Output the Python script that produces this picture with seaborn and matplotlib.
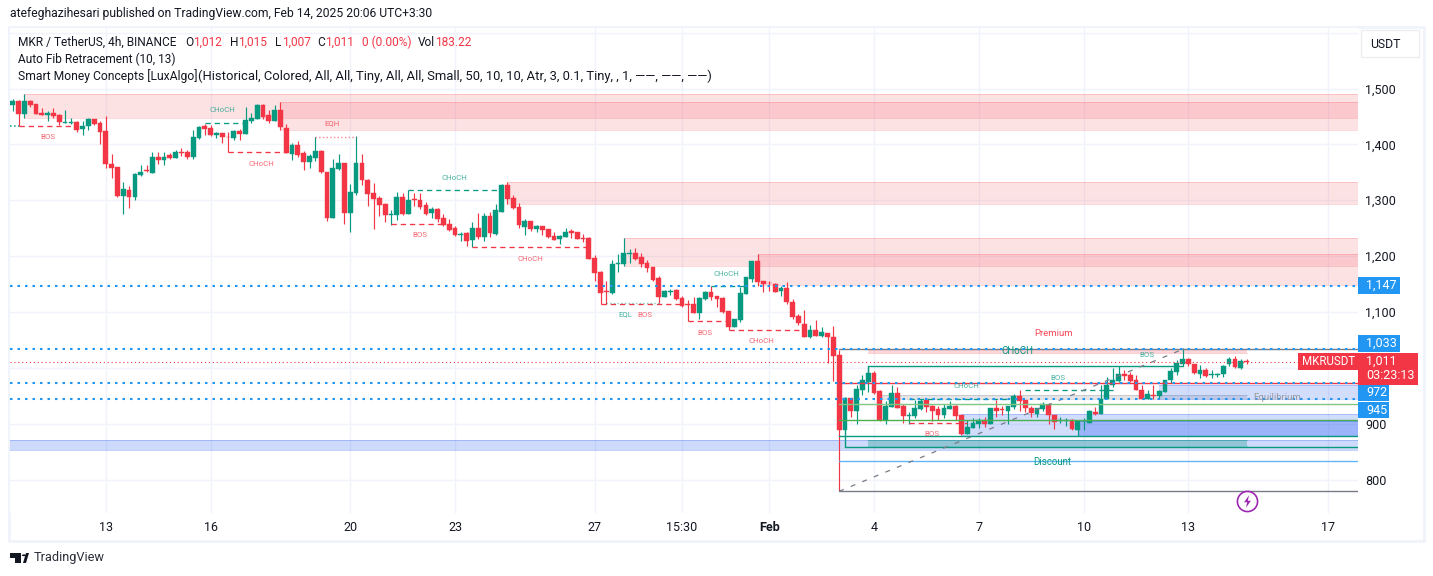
import numpy as np
import pandas as pd
import matplotlib.pyplot as plt
from matplotlib.patches import Rectangle, Polygon
import seaborn as sns

# 4h candles, left to right
opens = [1470,1478,1455,1478,1472,1456,1453,1456,1453,1439,1439,1440,1428,1432,1445,1438,1424,1365,1359,1308,
         1318,1305,1346,1354,1349,1377,1372,1381,1376,1386,1386,1377,1411,1433,1429,1417,1420,1414,1411,1424,
         1419,1442,1445,1470,1453,1442,1461,1429,1383,1399,1384,1368,1376,1388,1351,1268,1356,1367,1277,1313,
         1367,1336,1313,1304,1293,1274,1274,1306,1275,1302,1300,1291,1277,1284,1268,1257,1250,1238,1241,1229,
         1250,1234,1272,1239,1279,1327,1304,1288,1252,1263,1248,1254,1248,1236,1231,1234,1245,1243,1232,1232,
         1197,1172,1138,1134,1186,1186,1204,1206,1198,1188,1180,1161,1127,1136,1139,1125,1114,1114,1098,1123,
         1136,1128,1125,1102,1073,1086,1132,1159,1191,1155,1152,1150,1137,1143,1118,1093,1078,1055,1068,1057,
         1062,1055,1023,889,946,923,960,975,991,958,907,930,955,932,914,914,926,942,932,926,
         915,926,932,915,881,892,899,906,899,928,926,923,930,950,942,928,917,926,933,915,
         905,905,906,889,904,901,921,918,945,970,977,989,987,979,961,945,951,950,957,978,
         992,1007,1016,1007,989,997,988,988,989,1006,1016,1000,1012]
highs = [1481,1479,1490,1479,1473,1465,1460,1465,1454,1461,1448,1442,1441,1448,1445,1441,1451,1383,1359,1333,
         1325,1348,1363,1363,1386,1386,1386,1385,1390,1393,1390,1426,1433,1436,1435,1423,1421,1423,1426,1427,
         1467,1456,1472,1473,1461,1471,1476,1436,1402,1406,1388,1383,1414,1390,1351,1374,1383,1367,1329,1415,
         1383,1338,1331,1307,1295,1282,1315,1313,1318,1313,1313,1297,1288,1286,1275,1266,1254,1243,1243,1261,
         1277,1277,1279,1293,1329,1333,1309,1295,1266,1263,1256,1254,1248,1243,1238,1250,1248,1243,1239,1234,
         1202,1173,1155,1193,1204,1232,1213,1215,1206,1193,1180,1164,1139,1141,1141,1129,1121,1127,1127,1137,
         1146,1129,1127,1102,1087,1145,1163,1191,1204,1155,1155,1152,1146,1154,1123,1096,1103,1077,1086,1073,
         1062,1075,1032,947,946,969,987,1002,994,960,941,969,966,936,921,942,945,946,933,932,
         936,941,933,915,906,910,910,912,928,942,932,932,953,960,942,932,928,939,937,915,
         912,911,908,906,911,924,929,969,984,999,1003,996,993,987,969,961,969,960,979,999,
         1014,1035,1017,1007,1005,999,997,991,1005,1020,1021,1015,1015]
lows = [1460,1432,1448,1466,1454,1452,1441,1448,1435,1439,1436,1422,1416,1426,1435,1401,1358,1340,1306,1276,
        1286,1301,1344,1351,1349,1365,1363,1374,1375,1379,1374,1374,1410,1416,1415,1412,1402,1386,1408,1408,
        1419,1438,1445,1445,1438,1441,1426,1385,1372,1378,1354,1358,1370,1349,1262,1268,1354,1257,1243,1309,
        1327,1290,1248,1272,1261,1256,1265,1274,1275,1290,1285,1274,1268,1261,1254,1245,1236,1227,1218,1216,
        1231,1227,1234,1238,1279,1293,1284,1250,1238,1245,1243,1238,1232,1229,1222,1234,1232,1231,1225,1195,
        1156,1114,1115,1132,1172,1182,1188,1193,1180,1172,1155,1116,1127,1130,1122,1109,1083,1098,1087,1122,
        1121,1109,1098,1068,1073,1082,1132,1154,1146,1136,1137,1136,1129,1114,1087,1077,1055,1053,1057,1055,
        1008,977,779,889,912,900,951,957,953,905,900,930,928,901,900,911,924,921,905,906,
        910,926,906,880,881,892,892,894,899,912,915,899,926,923,921,912,912,923,899,890,
        901,896,889,878,889,901,915,918,945,966,975,978,975,960,945,945,945,945,957,972,
        988,1003,1004,989,981,983,982,983,983,1004,1000,998,1007]
closes = [1478,1455,1478,1470,1455,1453,1456,1450,1440,1440,1440,1426,1433,1445,1436,1423,1365,1358,1308,1320,
          1306,1347,1350,1353,1377,1372,1377,1376,1386,1385,1377,1413,1431,1428,1417,1420,1413,1413,1424,1419,
          1444,1447,1470,1449,1442,1461,1431,1385,1399,1381,1368,1379,1388,1351,1268,1358,1367,1277,1315,1367,
          1336,1311,1302,1291,1274,1275,1306,1275,1300,1300,1288,1275,1284,1266,1256,1247,1238,1239,1227,1250,
          1234,1272,1241,1282,1327,1302,1286,1256,1263,1248,1254,1247,1234,1229,1236,1243,1241,1231,1231,1195,
          1170,1134,1136,1186,1188,1206,1206,1195,1186,1179,1157,1127,1137,1137,1123,1111,1113,1098,1125,1136,
          1127,1123,1100,1073,1087,1134,1162,1191,1154,1150,1151,1136,1143,1118,1091,1080,1055,1068,1057,1064,
          1055,1021,889,946,923,962,978,991,955,907,932,955,928,914,915,928,941,930,923,915,
          928,932,914,881,894,901,906,899,928,923,924,932,950,941,928,919,928,935,915,903,
          906,906,890,905,905,923,918,945,970,978,989,986,977,961,945,953,950,958,979,994,
          1008,1015,1006,990,996,985,989,989,1004,1015,1002,1012,1011]

# horizontal scale
day_ticks = [16, 34, 58, 76, 100, 115, 130, 148, 166, 184, 202, 226]
day_labels = ['13', '16', '20', '23', '27', '15:30', 'Feb', '4', '7', '10', '13', '17']
price_ticks = [800, 900, 1000, 1100, 1200, 1300, 1400, 1500, 1600]
price_labels = ['800', '900', '', '1,100', '1,200', '1,300', '1,400', '1,500', '']

# supply / demand boxes
zone_start = [2, 46, 85, 105, 128, 147, 149, 197, 163, 183, -2, 147]
zone_low = [1448, 1426, 1294, 1183, 1147.5, 1027, 944, 945, 880, 878, 853, 860]
zone_high = [1490, 1476, 1332.5, 1232, 1204, 1033, 951, 969, 917, 905, 871, 870]
zone_end = [232, 232, 232, 232, 232, 212, 212, 232, 232, 232, 232, 212]
zone_color = ['#f23645'] * 5 + ['#f23645', '#787b86', '#2157f3', '#2157f3', '#2157f3', '#2157f3', '#089981']
zone_alpha = [0.14, 0.14, 0.14, 0.14, 0.14, 0.2, 0.2, 0.2, 0.2, 0.3, 0.22, 0.3]

# broken structure lines
red_dash = [(1, 11, 1432), (37, 47, 1386), (65, 74, 1257), (79, 99, 1216), (101, 115, 1115),
            (116, 123, 1083), (123, 136, 1067), (154, 164, 901)]
green_dash = [(33, 40, 1438), (68, 84, 1318), (120, 126, 1146), (154, 172, 945), (174, 189, 960)]

# fib levels
fib_price = [1033, 1003, 973, 936, 906, 878, 859, 834, 779]
fib_start = [142, 147, 142, 142, 142, 142, 143, 142, 142]
fib_end = [232, 201, 232, 232, 232, 232, 232, 232, 232]
fib_color = ['#787b86', '#089981', '#f23645', '#81c784', '#4caf50', '#089981', '#089981', '#64b5f6', '#787b86']

key_levels = [1147, 1033, 972, 945]
key_label_pos = [1147, 1043.5, 955, 924.5]
key_labels = ['1,147', '1,033', '972', '945']
last_price = 1011

RED = '#f23645'
GREEN = '#089981'
BLUE = '#2196f3'
TXT = '#131722'

sns.set_style('white')
plt.rcParams['font.family'] = ['Roboto', 'DejaVu Sans']

W, H = 1433, 576
fig = plt.figure(figsize=(W / 100, H / 100), dpi=100)
ax = fig.add_axes([10 / W, 1 - 513 / H, 1348 / W, 485 / H])

df = pd.DataFrame({'o': opens, 'h': highs, 'l': lows, 'c': closes})
df['i'] = np.arange(len(df))
df['up'] = df['c'] >= df['o']
df['bottom'] = df[['o', 'c']].min(axis=1)
df['size'] = (df['c'] - df['o']).abs()

ax.set_axisbelow(True)
ax.grid(True, color='#f0f3fa', lw=1)

for up, col in [(True, GREEN), (False, RED)]:
    sub = df[df['up'] == up]
    ax.vlines(sub['i'], sub['l'], sub['h'], color=col, lw=0.85, zorder=2)
    sns.barplot(data=sub, x='i', y='size', bottom=sub['bottom'].values, native_scale=True,
                color=col, saturation=1, width=0.82, errorbar=None, linewidth=0.3,
                edgecolor=col, zorder=2.5, ax=ax)

for s, e, lo, hi, col, al in zip(zone_start, zone_end, zone_low, zone_high, zone_color, zone_alpha):
    ax.add_patch(Rectangle((s, lo), e - s, hi - lo, facecolor=col, edgecolor='none', alpha=al, zorder=1))
    ax.plot([s, e], [lo, lo], color=col, lw=0.7, alpha=al + 0.05, zorder=1)
    ax.plot([s, e], [hi, hi], color=col, lw=0.7, alpha=al + 0.05, zorder=1)

for s, e, p in red_dash:
    ax.plot([s, e], [p, p], color=RED, lw=0.95, dashes=(4, 3), zorder=3)
for s, e, p in green_dash:
    ax.plot([s, e], [p, p], color=GREEN, lw=0.95, dashes=(4, 3), zorder=3)
ax.plot([-0.5, 1], [1432, 1432], color=GREEN, lw=1.1, ls=':', zorder=3)
ax.plot([52, 59], [1414, 1414], color=RED, lw=1, ls=':', alpha=0.6, zorder=3)
ax.plot([102, 111], [1116, 1116], color=GREEN, lw=1, ls=':', alpha=0.5, zorder=3)

for p, s, e, col in zip(fib_price, fib_start, fib_end, fib_color):
    ax.plot([s, e], [p, p], color=col, lw=1, zorder=3)
ax.plot([143, 143], [889, 859], color=GREEN, lw=1, zorder=3)
ax.plot([147, 147], [1003, 990], color=GREEN, lw=1, zorder=3)
ax.plot([142, 201], [779, 1033], color='#787b86', lw=0.9, dashes=(4, 6), zorder=3)

for p in key_levels:
    ax.axhline(p, color=BLUE, lw=1.5, dashes=(1.2, 2.4), zorder=3)
ax.axhline(last_price, color=RED, lw=0.8, dashes=(1, 2.5), zorder=3)

small = [('CHoCH', 36, 1461, GREEN), ('BOS', 6, 1413, RED), ('CHoCH', 42.8, 1364, RED), ('EQH', 54.9, 1438, RED),
         ('CHoCH', 75.9, 1340, GREEN), ('BOS', 70, 1238, RED), ('CHoCH', 88.9, 1195, RED), ('EQL', 105.2, 1096, GREEN),
         ('BOS', 108.6, 1095, RED), ('CHoCH', 122.7, 1168, GREEN), ('BOS', 119, 1062, RED), ('CHoCH', 128.7, 1048, RED),
         ('BOS', 194.9, 1023, GREEN), ('BOS', 179.6, 982, GREEN), ('CHoCH', 163.8, 967, GREEN), ('BOS', 158, 881, RED)]
for t, x, y, col in small:
    ax.text(x, y, t, color=col, fontsize=5.7, ha='center', va='center', alpha=0.75, zorder=4)
ax.text(178.8, 1062, 'Premium', color=RED, fontsize=6.8, ha='center', va='center', alpha=0.9, zorder=4)
ax.text(172.7, 1030, 'CHoCH', color=GREEN, fontsize=7, ha='center', va='center', zorder=4)
ax.text(217.2, 946, 'Equilibrium', color='#9598a1', fontsize=6.8, ha='center', va='center', zorder=4)
ax.text(178.6, 831, 'Discount', color=GREEN, fontsize=7, ha='center', va='center', zorder=4)

# lightning marker
bolt = [(0.25, 1), (-0.55, -0.12), (-0.05, -0.12), (-0.25, -1), (0.55, 0.12), (0.05, 0.12)]
ax.plot([212], [762], 'o', ms=14.5, mfc='white', mec='#9c27b0', mew=1.2, zorder=5, clip_on=False)
ax.plot([212], [762], marker=bolt, ms=9, mfc='#9c27b0', mec='none', zorder=6, clip_on=False)

ax.set_xlim((10 - 12.7) / 5.82, (1358 - 12.7) / 5.82)
ax.set_ylim(1500 - (513 - 88.5) * 1.79, 1500 + (88.5 - 28) * 1.79)
ax.set_xlabel('')
ax.set_ylabel('')
ax.set_xticks(day_ticks)
ax.set_xticklabels(day_labels, fontsize=9, color=TXT)
ax.get_xticklabels()[6].set_fontweight('bold')
ax.yaxis.tick_right()
ax.set_yticks(price_ticks)
ax.set_yticklabels(price_labels, fontsize=9, color=TXT)
ax.tick_params(axis='both', length=0)
ax.tick_params(axis='x', pad=6)
ax.tick_params(axis='y', pad=5.4)
sns.despine(ax=ax, left=True, bottom=True, right=True, top=True)


def fx(px):
    return (px - 10) / 1348


def price_box(x0, x1, top, bottom, color=BLUE):
    ax.add_patch(Rectangle((fx(x0), bottom), fx(x1) - fx(x0), top - bottom, transform=trans,
                           facecolor=color, edgecolor='none', clip_on=False, zorder=7))


def box_text(x, price, s, size=9):
    ax.text(fx(x), price, s, transform=trans, color='white', fontsize=size, va='center', ha='left',
            clip_on=False, zorder=8)


trans = ax.get_yaxis_transform()
for pos, lab in zip(key_label_pos, key_labels):
    price_box(1358, 1358 + (42 if ',' in lab else 31), pos + 15, pos - 15)
    box_text(1366, pos, lab)
price_box(1298, 1358, 1026, 996, color=RED)
box_text(1302, last_price, 'MKRUSDT', size=8.3)
price_box(1358, 1418, 1026, 970, color=RED)
box_text(1366, last_price, '1,011')
box_text(1366, 987, '03:23:13')


def ftext(x, y, s, **kw):
    kw.setdefault('color', TXT)
    kw.setdefault('fontsize', 8.8)
    kw.setdefault('va', 'center')
    fig.text(x / W, 1 - y / H, s, **kw)


def pxy(x, y):
    return (x / W, 1 - y / H)


# chart frame
fig.add_artist(Rectangle(pxy(9, 541), 1415 / W, 514 / H, transform=fig.transFigure, fill=False,
                         edgecolor='#f0f3fa', lw=2, zorder=0))

ftext(10, 14, 'atefeghazihesari published on TradingView.com, Feb 14, 2025 20:06 UTC+3:30', fontsize=8.7)

row1 = [(18, 'MKR / TetherUS, 4h, BINANCE', TXT), (185, 'O', TXT), (193.5, '1,012', RED), (230, 'H', TXT),
        (238, '1,015', RED), (275, 'L', TXT), (282, '1,007', RED), (317.5, 'C', TXT), (325.5, '1,011', RED),
        (361.5, '0 (0.00%)', RED), (418, 'Vol', TXT), (435, '183.22', RED)]
for x, s, col in row1:
    ftext(x, 42, s, color=col, fontsize=8.6)
ftext(18, 59, 'Auto Fib Retracement (10, 13)', fontsize=8.6)
ftext(18, 76, 'Smart Money Concepts [LuxAlgo]', fontsize=8.7)
ftext(198, 76, '(Historical, Colored, All, All, Tiny, All, All, Small, '
               '50, 10, 10, Atr, 3, 0.1, Tiny, , 1, \u2014\u2014, \u2014\u2014, \u2014\u2014)', fontsize=9.4)

fig.add_artist(Rectangle(pxy(1361, 57), 58 / W, 27 / H, transform=fig.transFigure, fill=False,
                         edgecolor='#eceef2', lw=1))
ftext(1370, 44, 'USDT')

# TradingView logo
for shape in [[(10, 553), (21, 553), (21, 563), (15.5, 563), (15.5, 558), (10, 558)],
              [(23, 563), (26, 553), (29, 553), (26, 563)]]:
    fig.add_artist(Polygon([pxy(*p) for p in shape], closed=True, transform=fig.transFigure,
                           facecolor=TXT, edgecolor='none'))
fig.add_artist(plt.Circle(pxy(24, 555.3), 2.2 / W, transform=fig.transFigure, facecolor=TXT, edgecolor='none'))
ftext(34, 558, 'TradingView', fontsize=9.2, color='#2a2e39')

fig.savefig('out.png', dpi=100)
